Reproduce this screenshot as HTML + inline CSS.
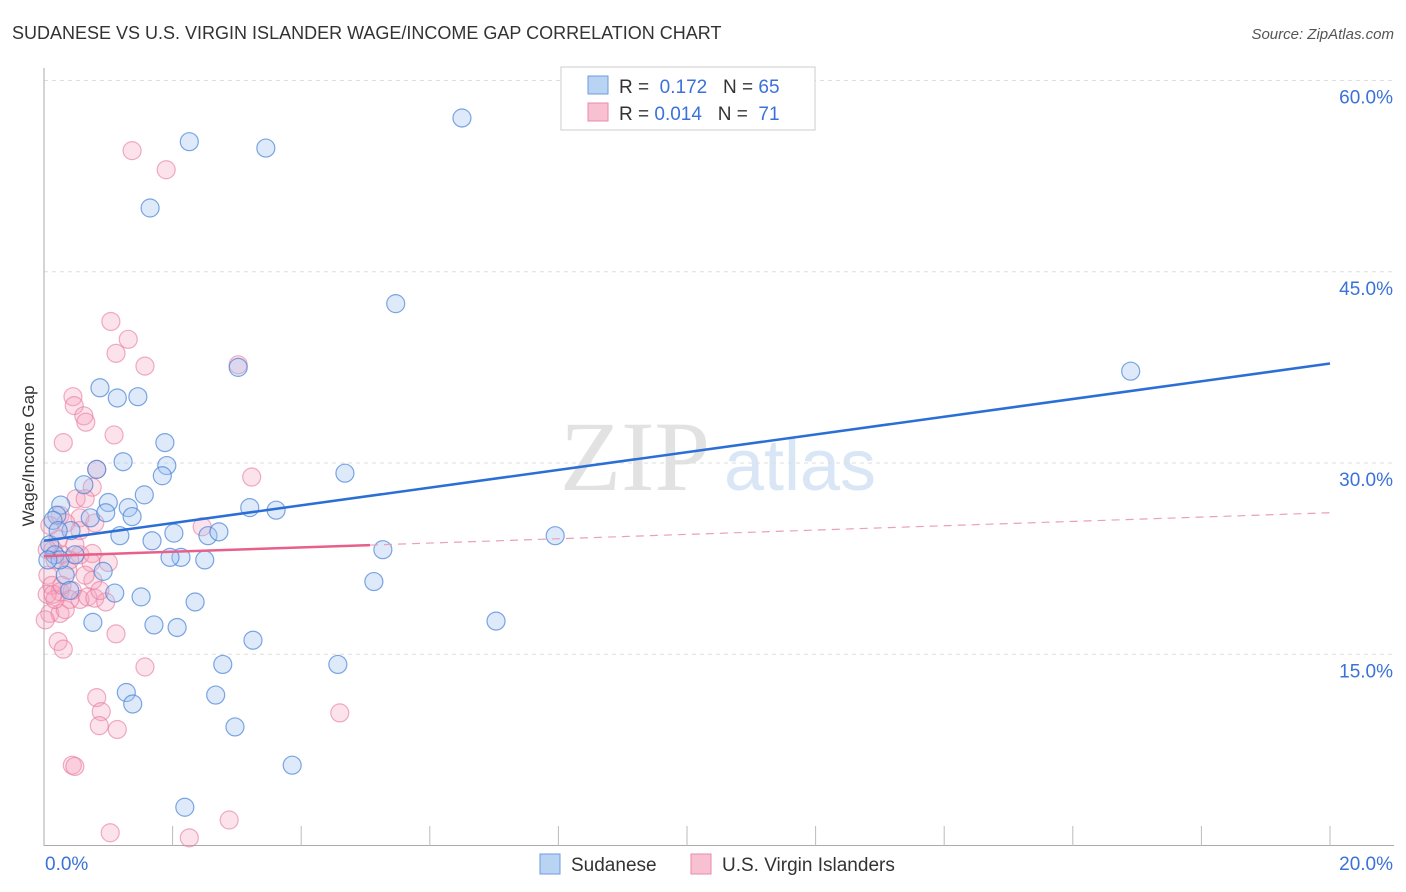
<!DOCTYPE html>
<html><head><meta charset="utf-8"><style>
body{margin:0;background:#fff;font-family:"Liberation Sans",sans-serif}
svg{display:block}
</style></head><body>
<svg id="chart" width="1406" height="892">
<text x="12" y="39" font-size="18" fill="#333">SUDANESE VS U.S. VIRGIN ISLANDER WAGE/INCOME GAP CORRELATION CHART</text>
<text x="1394" y="39" font-size="15" fill="#555" font-style="italic" text-anchor="end">Source: ZipAtlas.com</text>
<text x="34" y="456" font-size="17" fill="#333" text-anchor="middle" transform="rotate(-90 34 456)">Wage/Income Gap</text>
<text x="635" y="490" font-size="100" fill="#e2e2e2" font-family="Liberation Serif,serif" text-anchor="middle">ZIP</text>
<text x="800" y="490" font-size="72" fill="#d8e6f6" text-anchor="middle">atlas</text>
<g id="grid"></g><g id="axes"></g><g id="pts"></g><g id="lines"></g>
<g>
<rect x="561" y="67" width="254" height="63" fill="#fff" stroke="#ccc"/>
<rect x="588" y="76" width="20" height="18" fill="#b9d3f3" stroke="#6f9be0"/>
<text x="619" y="93" font-size="19" fill="#333">R = <tspan fill="#3a72d8">&#160;0.172</tspan>&#160;&#160;&#160;N = <tspan fill="#3a72d8">65</tspan></text>
<rect x="588" y="103" width="20" height="18" fill="#f7c1d1" stroke="#e88aa8"/>
<text x="619" y="120" font-size="19" fill="#333">R = <tspan fill="#3a72d8">0.014</tspan>&#160;&#160;&#160;N = <tspan fill="#3a72d8">&#160;71</tspan></text>
</g>
<g>
<rect x="540" y="854" width="20" height="20" fill="#b9d3f3" stroke="#6f9be0"/>
<text x="571" y="871" font-size="19" fill="#333">Sudanese</text>
<rect x="691" y="854" width="20" height="20" fill="#f7c1d1" stroke="#e88aa8"/>
<text x="722" y="871" font-size="19" fill="#333">U.S. Virgin Islanders</text>
</g>
</svg>
<script>
const xTicks=[0,2,4,6,8,10,12,14,16,18,20];
const yTicks=[15,30,45,60];
const yTickLabels=["15.0%","30.0%","45.0%","60.0%"];
const xEndLabels=["0.0%","20.0%"];
const sudX=[6.50,2.26,3.45,1.65,5.47,16.9,0.87,1.14,1.46,3.02,1.88,1.23,0.82,1.91,1.84,4.68,0.62,1.56,0.26,1.0,1.31,3.20,3.61,0.20,0.72,1.37,0.96,0.14,0.42,2.02,2.55,2.72,1.18,1.68,7.95,5.27,2.13,1.96,2.50,0.92,0.33,5.13,1.10,1.51,2.35,0.76,1.71,2.07,7.03,3.25,2.78,4.57,1.28,2.67,1.38,2.97,3.86,2.19,0.09,0.17,0.25,0.48,0.40,0.06,0.22];
const sudY=[57.06,55.2,54.7,50.0,42.5,37.2,35.9,35.1,35.2,37.5,31.6,30.1,29.5,29.8,29.0,29.2,28.3,27.5,26.7,26.9,26.5,26.5,26.3,25.9,25.7,25.8,26.1,25.5,24.7,24.5,24.3,24.6,24.3,23.9,24.3,23.2,22.6,22.6,22.4,21.5,21.2,20.7,19.8,19.5,19.1,17.5,17.3,17.1,17.6,16.1,14.2,14.2,12.0,11.8,11.1,9.3,6.3,3.0,23.6,22.8,22.4,22.8,20.0,22.4,24.7];
const usvX=[1.37,1.90,1.04,1.31,1.12,1.57,3.02,0.45,0.47,0.62,0.65,1.09,0.30,0.82,0.75,3.23,0.50,0.64,0.25,0.56,0.34,0.79,2.46,0.09,0.22,0.14,0.28,0.56,0.75,0.73,1.0,0.17,0.40,0.06,0.12,0.25,0.44,0.56,0.68,0.79,0.96,0.09,0.25,0.22,0.30,1.12,1.57,0.82,0.89,0.86,1.14,4.60,0.44,0.48,1.03,2.26,2.88,0.76,0.40,0.05,0.05,0.56,0.02,0.33,0.87,0.64,0.17,0.37,0.14,0.28,0.48];
const usvY=[54.5,53.0,41.1,39.7,38.6,37.6,37.7,35.2,34.5,33.7,33.2,32.2,31.6,29.5,28.1,28.9,27.2,27.2,25.9,25.7,25.3,25.3,25.0,25.1,24.0,23.2,22.8,22.8,22.9,22.2,22.2,22.4,22.4,21.2,20.4,19.9,20.0,19.3,19.5,19.4,19.1,18.2,18.2,16.0,15.4,16.6,14.0,11.6,10.5,9.4,9.1,10.4,6.3,6.2,1.0,0.6,2.0,20.8,19.3,19.7,23.2,24.7,17.7,18.5,20.0,21.2,19.3,21.6,19.7,20.4,23.6];
const sudTrend=[23.9,37.8];   // value at x=0 and x=20
const usvTrend=[22.7,26.1];   // value at x=0 and x=20
const usvSolidEnd=5.07;
const X=v=>44+v*64.3, Y=v=>845.5-v*12.75;
const NS="http://www.w3.org/2000/svg";
function mk(p,t,a){const e=document.createElementNS(NS,t);for(const k in a)e.setAttribute(k,a[k]);p.appendChild(e);return e;}
const grid=document.getElementById('grid'),axes=document.getElementById('axes'),pts=document.getElementById('pts'),lines=document.getElementById('lines');
yTicks.forEach((t,i)=>{
 const l=mk(grid,'line',{x1:44,x2:1394,y1:Y(t),y2:Y(t),stroke:'#ddd','stroke-dasharray':'4,4'});
 
 
 const tx=mk(grid,'text',{x:1393,y:Y(t)+23,'font-size':19,fill:'#3a72d8','text-anchor':'end'});tx.textContent=yTickLabels[i];
 
 
});
mk(axes,'line',{x1:44,x2:44,y1:68,y2:846,stroke:'#aaa'});
mk(axes,'line',{x1:44,x2:1394,y1:845.5,y2:845.5,stroke:'#aaa'});
xTicks.forEach(t=>{if(t>0){const l=mk(axes,'line',{x1:X(t),x2:X(t),y1:826,y2:846,stroke:'#bbb'});
 
 }});
const t0=mk(axes,'text',{x:45,y:870,'font-size':19,fill:'#3a72d8'});t0.textContent=xEndLabels[0];


const t1=mk(axes,'text',{x:1393,y:870,'font-size':19,fill:'#3a72d8','text-anchor':'end'});t1.textContent=xEndLabels[1];


usvX.forEach((v,i)=>{const c=mk(pts,'circle',{cx:X(v),cy:Y(usvY[i]),r:9,fill:'rgba(244,160,188,0.3)',stroke:'rgba(230,120,155,0.6)','stroke-width':1.2});
 
 });
sudX.forEach((v,i)=>{const c=mk(pts,'circle',{cx:X(v),cy:Y(sudY[i]),r:9,fill:'rgba(160,196,240,0.35)',stroke:'rgba(70,130,215,0.7)','stroke-width':1.2});
 
 });
const s=mk(lines,'line',{x1:X(0),y1:Y(sudTrend[0]),x2:X(20),y2:Y(sudTrend[1]),stroke:'#2b6fd6','stroke-width':2.5});


const uAt=v=>usvTrend[0]+(usvTrend[1]-usvTrend[0])*v/20;
const u1=mk(lines,'line',{x1:X(0),y1:Y(uAt(0)),x2:X(usvSolidEnd),y2:Y(uAt(usvSolidEnd)),stroke:'#e8608a','stroke-width':2.5});


const u2=mk(lines,'line',{x1:X(usvSolidEnd),y1:Y(uAt(usvSolidEnd)),x2:X(20),y2:Y(uAt(20)),stroke:'#eba0b8','stroke-width':1.2,'stroke-dasharray':'8,6'});


</script>
</body></html>
